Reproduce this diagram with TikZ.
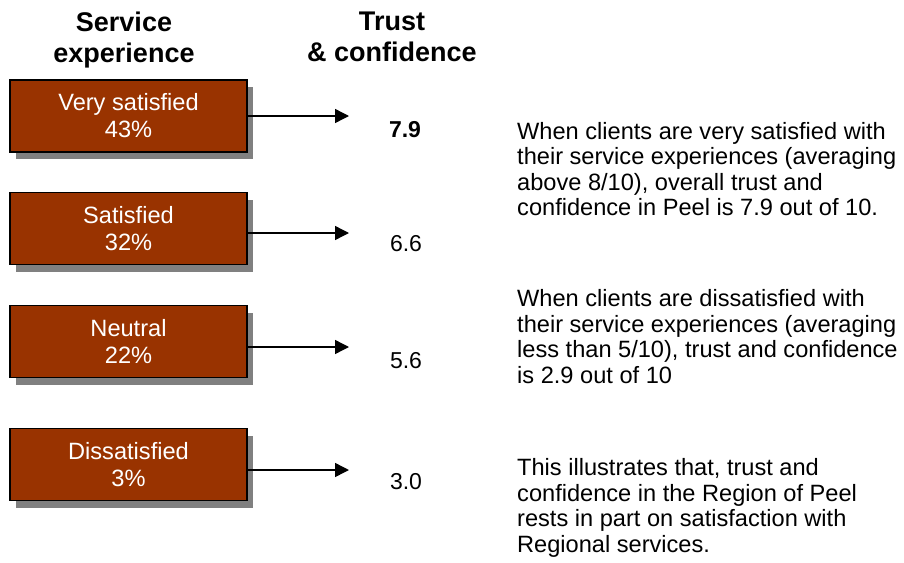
\documentclass[tikz,border=0pt]{standalone}
\usepackage{fontspec}
\setmainfont{Liberation Sans}
\usetikzlibrary{arrows.meta,shadows}
\definecolor{boxfill}{HTML}{993300}
\definecolor{shadowgray}{HTML}{808080}

\begin{document}
\begin{tikzpicture}[x=1pt,y=-1pt,
  catbox/.style={draw=black, line width=1.4pt, fill=boxfill,
    minimum width=237pt, minimum height=72pt, inner sep=0pt,
    text=white, align=center, font=\fontsize{23.6}{27}\selectfont,
    drop shadow={shadow xshift=6pt, shadow yshift=-7pt,
      fill=shadowgray, opacity=1}},
  header/.style={anchor=north, align=center, inner sep=0pt,
    font=\bfseries\fontsize{27}{31}\selectfont},
  score/.style={inner sep=0pt, font=\fontsize{23}{27}\selectfont},
  note/.style={anchor=north west, align=left, inner sep=0pt,
    font=\fontsize{23.6}{25.5}\selectfont},
  link/.style={line width=1.4pt, -{Triangle[length=14pt,width=14pt]}}]

\useasboundingbox (0,0) rectangle (904,562);

% column headings
\node[header] (hserv) at (124,12) {Service\\experience};
\node[header] (htrust) at (392,12) {Trust\\\& confidence};

% satisfaction categories
\node[catbox] (vs)  at (128.5,116)   {Very satisfied\\43\%};
\node[catbox] (sat) at (128.5,228.5) {Satisfied\\32\%};
\node[catbox] (neu) at (128.5,341.5) {Neutral\\22\%};
\node[catbox] (dis) at (128.5,464.5) {Dissatisfied\\3\%};

% arrow end points
\coordinate (e1) at (349,116);
\coordinate (e2) at (349,233);
\coordinate (e3) at (349,347);
\coordinate (e4) at (349,470);

\draw[link] (vs.east |- e1) -- (e1);
\draw[link] (sat.east |- e2) -- (e2);
\draw[link] (neu.east |- e3) -- (e3);
\draw[link] (dis.east |- e4) -- (e4);

% trust and confidence scores
\node[score, font=\bfseries\fontsize{23}{27}\selectfont] (s1) at (405,130) {7.9};
\node[score] (s2) at (406,244) {6.6};
\node[score] (s3) at (406,361) {5.6};
\node[score] (s4) at (406,482) {3.0};

% commentary
\node[note] (n1) at (517,122) {When clients are very satisfied with\\their service experiences (averaging\\above 8/10), overall trust and\\confidence in Peel is 7.9 out of 10.};
\node[note] (n2) at (517,289.5) {When clients are dissatisfied with\\their service experiences (averaging\\less than 5/10), trust and confidence\\is 2.9 out of 10};
\node[note] (n3) at (517,458.5) {This illustrates that, trust and\\confidence in the Region of Peel\\rests in part on satisfaction with\\Regional services.};

\end{tikzpicture}
\end{document}
